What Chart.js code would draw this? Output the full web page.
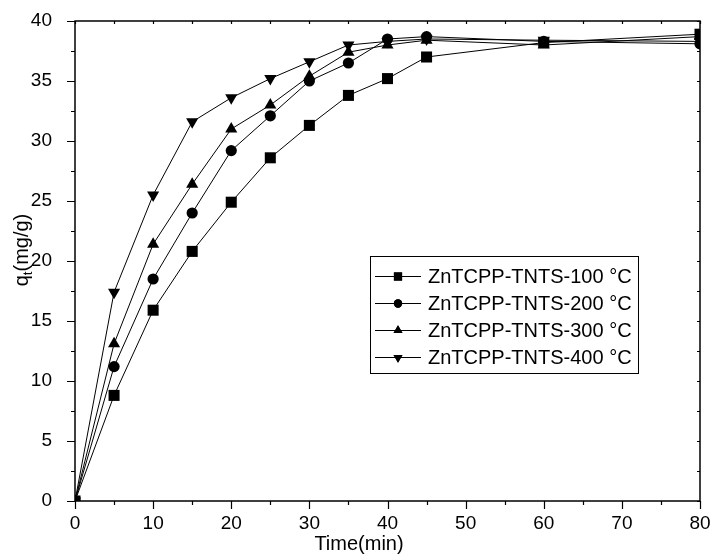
<!DOCTYPE html>
<html>
<head>
<meta charset="utf-8">
<script src="https://cdn.jsdelivr.net/npm/chart.js@4.4.0/dist/chart.umd.min.js"></script>
<style>
  html, body { margin: 0; padding: 0; background: #fff; }
</style>
</head>
<body>
<canvas id="kinetics" width="711" height="556"></canvas>
<script>
// contact time (min) and adsorbed amount q_t (mg/g)
const times = [0, 5, 10, 15, 20, 25, 30, 35, 40, 45, 60, 80];
const q100 = [0, 8.8, 15.9, 20.8, 24.9, 28.6, 31.3, 33.8, 35.2, 37.0, 38.2, 38.9];
const q200 = [0, 11.2, 18.5, 24.0, 29.2, 32.1, 35.0, 36.5, 38.5, 38.7, 38.3, 38.1];
const q300 = [0, 13.1, 21.4, 26.4, 31.0, 33.0, 35.4, 37.4, 38.0, 38.4, 38.0, 38.7];
const q400 = [0, 17.4, 25.5, 31.6, 33.6, 35.2, 36.6, 38.0, 38.3, 38.5, 38.4, 38.3];
const seriesLabels = ['ZnTCPP-TNTS-100 °C', 'ZnTCPP-TNTS-200 °C', 'ZnTCPP-TNTS-300 °C', 'ZnTCPP-TNTS-400 °C'];

const FONT = '"Liberation Sans", Arial, sans-serif';

const toPoints = arr => arr.map((v, i) => ({ x: times[i], y: v }));

const makeSet = (label, data, style, radius, rotation) => ({
  label,
  data: toPoints(data),
  borderColor: '#000',
  backgroundColor: '#000',
  borderWidth: 1,
  pointStyle: style,
  pointRadius: radius,
  pointRotation: rotation || 0,
  pointBorderWidth: 0,
  pointBackgroundColor: '#000',
  tension: 0
});

// frame, ticks, axis titles and the boxed legend inside the plot
const decorations = {
  id: 'decorations',
  afterDraw(chart) {
    const ctx = chart.ctx;
    const a = chart.chartArea;
    const xs = chart.scales.x, ys = chart.scales.y;
    ctx.save();
    ctx.strokeStyle = '#000';
    ctx.lineWidth = 1.2;

    for (let v = 0; v <= 80; v += 5) {
      const px = Math.round(xs.getPixelForValue(v)) + 0.5;
      const major = v % 10 === 0;
      ctx.beginPath();
      ctx.moveTo(px, a.bottom);
      ctx.lineTo(px, a.bottom + (major ? 8 : 4));
      ctx.moveTo(px, a.top);
      ctx.lineTo(px, a.top + 3);
      ctx.stroke();
    }
    for (let v = 0; v <= 40; v += 2.5) {
      const py = Math.round(ys.getPixelForValue(v)) + 0.5;
      const major = v % 5 === 0;
      ctx.beginPath();
      ctx.moveTo(a.left, py);
      ctx.lineTo(a.left - (major ? 8 : 4), py);
      ctx.moveTo(a.right, py);
      ctx.lineTo(a.right - 3, py);
      ctx.stroke();
    }
    ctx.lineWidth = 1.5;
    ctx.strokeRect(a.left, a.top, a.right - a.left, a.bottom - a.top);

    // x title
    ctx.fillStyle = '#000';
    ctx.font = '20px ' + FONT;
    ctx.textAlign = 'center';
    ctx.textBaseline = 'middle';
    ctx.fillText('Time(min)', 359, 544);

    // y title with subscript t
    ctx.save();
    ctx.translate(21, 250);
    ctx.rotate(-Math.PI / 2);
    ctx.textAlign = 'left';
    ctx.textBaseline = 'alphabetic';
    const big = '20px ' + FONT, small = '13px ' + FONT;
    ctx.font = big; const wq = ctx.measureText('q').width;
    ctx.font = small; const wt = ctx.measureText('t').width;
    ctx.font = big; const wr = ctx.measureText('(mg/g)').width;
    let x0 = -(wq + wt + wr) / 2;
    const base = 7;
    ctx.font = big; ctx.fillText('q', x0, base); x0 += wq;
    ctx.font = small; ctx.fillText('t', x0, base + 4); x0 += wt;
    ctx.font = big; ctx.fillText('(mg/g)', x0, base);
    ctx.restore();

    // legend
    const box = { left: 370, top: 256, right: 638, bottom: 373 };
    ctx.lineWidth = 1;
    ctx.strokeRect(box.left + 0.5, box.top + 0.5, box.right - box.left, box.bottom - box.top);
    const legendRadius = { rect: 5.8, circle: 4.2, triangle: 5.2 };
    chart.data.datasets.forEach((ds, i) => {
      const ry = 276 + i * 27;
      ctx.beginPath();
      ctx.moveTo(375, ry + 0.5);
      ctx.lineTo(421, ry + 0.5);
      ctx.stroke();
      Chart.helpers.drawPoint(ctx, {
        pointStyle: ds.pointStyle,
        radius: legendRadius[ds.pointStyle],
        rotation: ds.pointRotation,
        borderWidth: 0
      }, 398, ry + 0.5);
      ctx.fillStyle = '#000';
      ctx.fill();
      ctx.font = '20px ' + FONT;
      ctx.textAlign = 'left';
      ctx.textBaseline = 'middle';
      ctx.fillText(ds.label, 428, ry + 1);
    });
    ctx.restore();
  }
};

new Chart(document.getElementById('kinetics'), {
  type: 'line',
  data: {
    datasets: [
      makeSet(seriesLabels[0], q100, 'rect', 7.8),
      makeSet(seriesLabels[1], q200, 'circle', 5.6),
      makeSet(seriesLabels[2], q300, 'triangle', 7),
      makeSet(seriesLabels[3], q400, 'triangle', 7, 180)
    ]
  },
  options: {
    responsive: false,
    animation: false,
    layout: { padding: { top: 21, right: 11, left: 0, bottom: 0 } },
    plugins: { legend: { display: false }, tooltip: { enabled: false } },
    scales: {
      x: {
        type: 'linear',
        min: 0, max: 80,
        grid: { display: false },
        border: { display: false },
        ticks: { stepSize: 10, color: '#000', font: { family: FONT, size: 19 }, padding: 3, maxRotation: 0 },
        afterFit(scale) {
          scale.height = 55;
          scale.paddingLeft = 0;
          scale.paddingRight = 0;
        }
      },
      y: {
        min: 0, max: 40,
        grid: { display: false },
        border: { display: false },
        ticks: { stepSize: 5, color: '#000', font: { family: FONT, size: 19 }, padding: 15 },
        afterFit(scale) {
          scale.width = 75;
          scale.paddingTop = 0;
          scale.paddingBottom = 0;
        }
      }
    }
  },
  plugins: [decorations]
});
</script>
</body>
</html>
